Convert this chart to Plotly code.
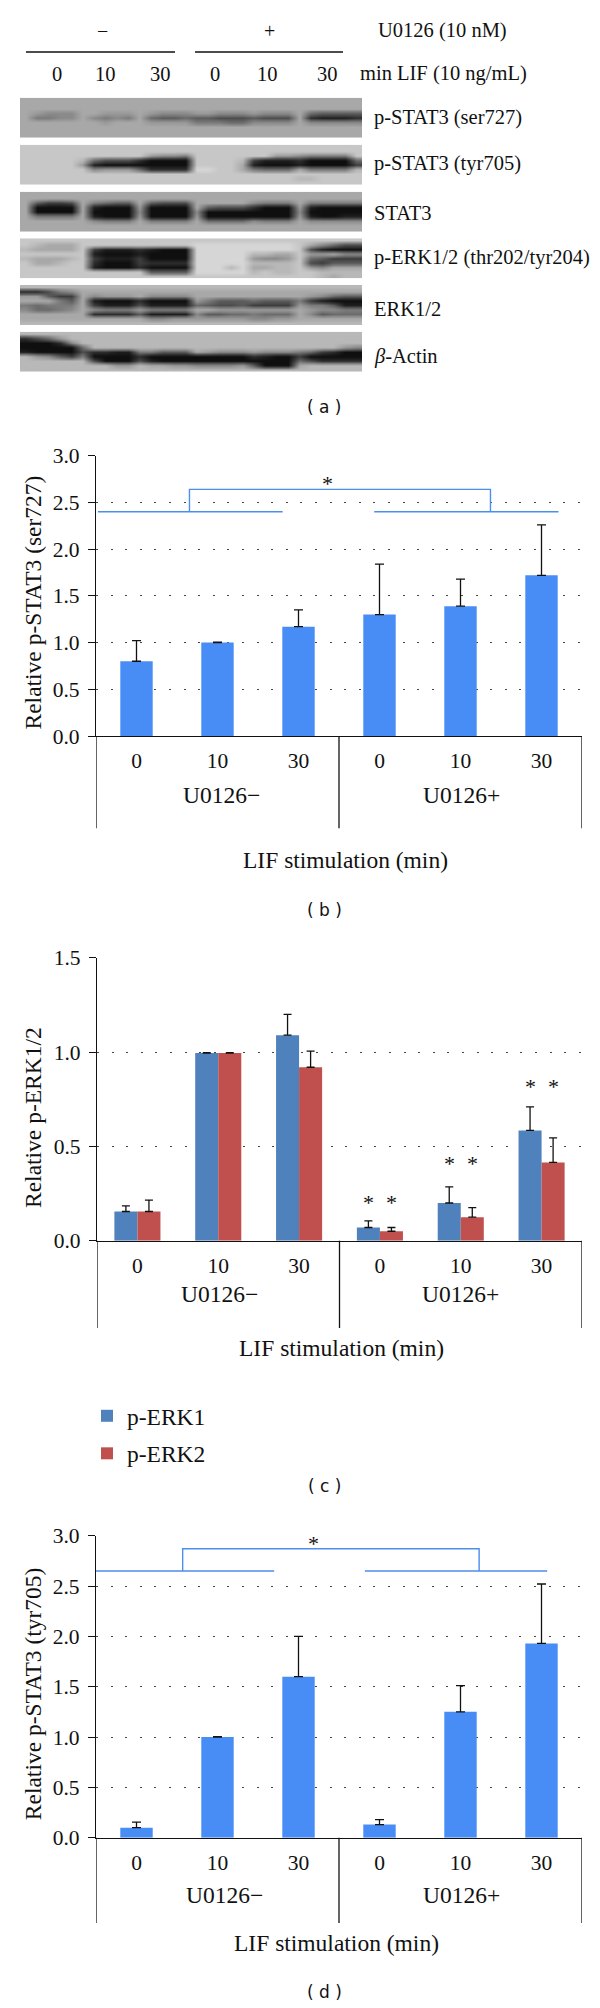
import plotly.graph_objects as go

W, H = 600, 2008
SERIF = "Liberation Serif"
BLUE = "#488CF6"
E1 = "#4F81BD"
E2 = "#C0504D"
BR = "#4A8EEE"

# ---------- panel (a): blot densities (hex grey level per cell)
BLOT_NAMES = ["p-STAT3 (ser727)", "p-STAT3 (tyr705)", "STAT3",
              "p-ERK1/2 (thr202/tyr204)", "ERK1/2", "<i>β</i>-Actin"]
BLOT_TOPS = [97.7, 144.7, 191.7, 238.3, 285, 331.7]
BLOT_LABEL_Y = [118, 163, 213, 257, 309, 357]
BLOT1 = ["aaaaa a aaaa a aaaa aaaaa aaaa a aaaaa",
         "aaaaa a aaaa a aaaa aaaaa aaaa a aaaaa",
         "aaaaa a aaaa a aaaa aaaaa aaaa a aaaaa",
         "a9888 a a999 a 9888 99888 9888 a 65555",
         "a7788 a 8787 a 6556 55444 5444 a 21112",
         "aaaaa a a9aa a 9999 77766 8888 a 88888",
         "aaaaa a aaaa a aaaa aaaaa aaaa a aaaaa",
         "aaaaa a aaaa a aaaa aaaaa aaaa a aaaaa",
         "aaaaa a aaaa a aaaa aaaaa aaaa a aaaaa"]
BLOT2 = ["ccccc c cccc c cccc ccccc cccc c ccccc",
         "ccccc c cccc c cccc ccccc cccc c ccccc",
         "ccccc c cccc c 9887 ccccc cc99 8 7777c",
         "ccccc b 6444 2 0000 ccccb 3111 2 00006",
         "ccccc 9 1000 0 0000 cccca 1000 1 00003",
         "ccccc c 8999 6 2222 ddcca 7666 a 7777b",
         "ccccc c cccc c cccc ccccc cccc c ccccc",
         "ccccc c cccc c cccc ccccc cccc b bcccc",
         "ccccc c cccc c cccc ccccc cccc c ccccc"]
BLOT3 = ["aaaaa a aaaa a aaaa aaaaa aaaa a aaaaa",
         "aaaaa a aaaa a aaaa aaaaa aaaa a aaaaa",
         "a5334 a 7655 a 5444 aaaaa 8777 a 77777",
         "a0000 a 1000 9 0000 a5444 2000 9 10000",
         "a0000 a 0000 8 0000 80000 0000 8 00000",
         "a7777 a 1000 9 0000 90000 0000 9 10011",
         "aaaaa a 8777 a 7777 a6666 8777 a 88888",
         "aaaaa a aaaa a aaaa aaaaa aaaa a aaaaa",
         "aaaaa a aaaa a aaaa aaaaa aaaa a aaaaa"]
BLOT4 = ["ccccc c cccc c cccc ccccc cccc c ccccc",
         "cbaaa c cccc c cccc ddddd dddd c a8644",
         "baaaa c 3111 2 1000 ddddd dddd c 41000",
         "ccccc c 1000 1 0000 ddddd bbaa c 99a88",
         "baaab c 3111 3 0000 ddddd 9889 c 65333",
         "caabc c 2000 3 2222 ddddd bbbb c 43555",
         "ccccc c 1000 2 0000 dddbd aabb c 98aaa",
         "ccccc c cccc c 5555 ddddd bcbb c cbbbb",
         "ccccc c cccc c cccc ccccc cccc c cbabb"]
BLOT5 = ["bbbbb b bbbb b bbbb bbbbb bbbb b bbbbb",
         "22478 a aaaa a aaaa aaaaa aaaa a aaaaa",
         "99533 a 8999 a 8888 aaaaa aaaa a 98655",
         "aaa75 a 1000 2 0000 97555 6555 7 31000",
         "76777 a 3111 4 1111 65445 3333 9 77511",
         "86678 a 8777 9 7777 aa999 9999 a 98877",
         "aaaaa a 2222 5 1111 85566 7666 a 85666",
         "aaaaa a aaaa a 8899 99999 8899 a aaaaa",
         "bbbbb b bbbb b bbbb bbbbb bbbb b bbbbb"]
BLOT6 = ["bbbbb b bbbb b bbbb bbbbb bbbb b bbbbb",
         "2469b b bbbb b bbbb bbbbb bbbb b bbbbb",
         "00028 b bbbb b bbbb bbbbb bbbb b bbbbb",
         "00000 6 bbbb b bbbb bbbbb bbbb b bbb98",
         "10000 4 2211 7 7555 a9888 9888 7 63200",
         "b9853 7 0000 2 0000 00000 2100 3 00000",
         "bbbbb b 4000 4 1000 00000 0000 6 42222",
         "bbbbb b bb99 b aa99 88889 5000 a bbbbb",
         "bbbbb b bbbb b bbbb bbbbb bbbb b bbbbb"]
BLOTS = [BLOT1, BLOT2, BLOT3, BLOT4, BLOT5, BLOT6]
LANE_LABELS = ["0", "10", "30", "0", "10", "30"]
LANE_X = [57, 105, 160, 215, 267, 327]

# ---------- panels (b)-(d)
CATS = ["0", "10", "30", "0", "10", "30"]
GROUPS = ["U0126−", "U0126+"]
B_VALS = [0.80, 1.00, 1.17, 1.30, 1.39, 1.72]
B_ERR = [0.22, 0.005, 0.18, 0.54, 0.29, 0.54]
C_ERK1 = [0.155, 0.995, 1.09, 0.07, 0.20, 0.585]
C_ERK1_ERR = [0.03, 0.003, 0.11, 0.035, 0.085, 0.125]
C_ERK2 = [0.155, 0.995, 0.92, 0.05, 0.125, 0.415]
C_ERK2_ERR = [0.06, 0.003, 0.085, 0.02, 0.05, 0.13]
C_STARS = [None, None, None, 0.205, 0.41, 0.82]
D_VALS = [0.10, 1.00, 1.60, 0.13, 1.25, 1.93]
D_ERR = [0.055, 0.005, 0.40, 0.05, 0.26, 0.59]

fx = lambda px: px / W
fy = lambda px: 1 - px / H
TICK = 21.5
LABEL = 23.5

fig = go.Figure()
layout = dict(
    width=W, height=H, margin=dict(l=0, r=0, t=0, b=0, autoexpand=False), autosize=False,
    paper_bgcolor="white", plot_bgcolor="white", barmode="group", bargap=0.43,
    font=dict(family=SERIF, size=TICK, color="#111"),
    legend=dict(x=fx(87), y=fy(1394), xanchor="left", yanchor="top",
                font=dict(family=SERIF, size=LABEL), tracegroupgap=4,
                bgcolor="rgba(0,0,0,0)"),
)
ann, shapes = [], []

def text(x, y, s, xref="paper", yref="paper", size=LABEL, angle=0, family=SERIF, xanchor="center"):
    ann.append(dict(x=x, y=y, text=s, xref=xref, yref=yref, showarrow=False,
                    font=dict(size=size, family=family, color="#111"),
                    textangle=angle, xanchor=xanchor, yanchor="middle"))

# ----- blots
COLORSCALE = [[0, "rgb(15,15,15)"], [1, "rgb(245,245,245)"]]
for i, (rows, top) in enumerate(zip(BLOTS, BLOT_TOPS)):
    n = i + 1
    z = [[int(c, 16) for c in r.replace(" ", "")] for r in rows]
    fig.add_trace(go.Heatmap(z=z, zmin=0, zmax=15, colorscale=COLORSCALE, showscale=False,
                             zsmooth="best", xaxis=f"x{n}", yaxis=f"y{n}", hoverinfo="skip"))
    layout[f"xaxis{n}"] = dict(domain=[fx(20), fx(362)], visible=False, anchor=f"y{n}",
                               range=[-0.5, 29.5])
    layout[f"yaxis{n}"] = dict(domain=[fy(top + 40), fy(top)], visible=False, anchor=f"x{n}",
                               range=[8.5, -0.5])
    text(fx(371.5), fy(BLOT_LABEL_Y[i]), BLOT_NAMES[i], size=20.5, xanchor="left")

text(fx(102), fy(31), "−", size=20)
text(fx(269), fy(31), "+", size=20)
text(fx(376), fy(30.7), "U0126 (10 nM)", size=20.5, xanchor="left")
text(fx(358), fy(74), "min LIF (10 ng/mL)", size=20.5, xanchor="left")
for s, x in zip(LANE_LABELS, LANE_X):
    text(fx(x), fy(74), s, size=20.5)
for x0, x1 in [(26, 175), (195, 343)]:
    shapes.append(dict(type="line", xref="paper", yref="paper", x0=fx(x0), x1=fx(x1),
                       y0=fy(52), y1=fy(52), line=dict(color="#111", width=1.3)))
text(fx(324), fy(407), "( a )", size=17, family="DejaVu Sans")

# ----- charts
def axes(n, left, top, bottom, ymax, floor, ylabel, ylab_y, grp_y, grp_x, title_x, title_y, panel, panel_y):
    xa, ya = f"x{n}", f"y{n}"
    layout[f"xaxis{n}"] = dict(domain=[fx(left), fx(582)], anchor=ya, range=[-0.5, 5.5],
                               tickmode="array", tickvals=list(range(6)), ticktext=CATS,
                               ticks="", ticklabelstandoff=5, showline=True, linecolor="#111",
                               linewidth=1.4, showgrid=False, zeroline=False,
                               tickfont=dict(size=TICK, family=SERIF, color="#111"))
    layout[f"yaxis{n}"] = dict(domain=[fy(bottom), fy(top)], anchor=xa, range=[0, ymax], dtick=0.5,
                               tick0=0, tickformat=".1f", ticks="outside", ticklen=7, tickwidth=1.3,
                               tickcolor="#111", showline=True, linecolor="#111", linewidth=1.4,
                               showgrid=True, gridcolor="#444", griddash="2px,12.6px", gridwidth=1.3,
                               zeroline=False, ticklabelstandoff=4,
                               tickfont=dict(size=TICK, family=SERIF, color="#111"))
    for x in (-0.5, 2.5, 5.5):
        shapes.append(dict(type="line", xref=xa, yref="paper", x0=x, x1=x, y0=fy(bottom), y1=fy(floor),
                           line=dict(color="#111", width=1.3)))
    text(fx(32.5), fy(ylab_y), ylabel, angle=-90)
    for g, x in zip(GROUPS, grp_x):
        text(fx(x), fy(grp_y), g)
    text(fx(title_x), fy(title_y), "LIF stimulation (min)")
    text(fx(324), fy(panel_y), panel, size=17, family="DejaVu Sans")

def single(n, vals, errs):
    fig.add_trace(go.Bar(x=list(range(6)), y=vals, width=0.4, marker=dict(color=BLUE, line=dict(width=0)),
                         error_y=dict(type="data", symmetric=False, array=errs, arrayminus=[0] * 6,
                                      color="#111", thickness=1.3, width=4.5),
                         xaxis=f"x{n}", yaxis=f"y{n}", showlegend=False))

def bracket(n, left, right, y0, ytop, lx, rx, star):
    xa, ya = f"x{n}", f"y{n}"
    for xs, ys in [(left, [y0, y0]), (right, [y0, y0]), ([lx, lx, rx, rx], [y0, ytop, ytop, y0])]:
        fig.add_trace(go.Scatter(x=xs, y=ys, mode="lines", line=dict(color=BR, width=1.4),
                                 cliponaxis=False, xaxis=xa, yaxis=ya, showlegend=False,
                                 hoverinfo="skip"))
    text(star[0], star[1], "*", xref=xa, yref=ya, size=22)

# (b)
axes(7, 96, 455.7, 736, 3, 828.3, "Relative p-STAT3 (ser727)", 603, 795, [221, 461], 345, 860, "( b )", 910)
single(7, B_VALS, B_ERR)
bracket(7, [-0.476, 1.804], [2.935, 5.21], 2.40, 2.64, 0.654, 4.37, (2.355, 2.70))

# (c)
axes(8, 97, 957.9, 1240.7, 1.5, 1328, "Relative p-ERK1/2", 1117.5, 1294, [220, 460], 341, 1348, "( c )", 1486)
for name, vals, errs, col in [("p-ERK1", C_ERK1, C_ERK1_ERR, E1), ("p-ERK2", C_ERK2, C_ERK2_ERR, E2)]:
    fig.add_trace(go.Bar(x=list(range(6)), y=vals, name=name, marker=dict(color=col, line=dict(width=0)),
                         error_y=dict(type="data", symmetric=False, array=errs, arrayminus=[0] * 6,
                                      color="#111", thickness=1.3, width=4),
                         xaxis="x8", yaxis="y8", legendgroup=name))
for i, s in enumerate(C_STARS):
    if s is not None:
        text(i - 0.143, s, "*", xref="x8", yref="y8", size=22)
        text(i + 0.143, s, "*", xref="x8", yref="y8", size=22)

# (d)
axes(9, 96, 1535.7, 1837.7, 3, 1923, "Relative p-STAT3 (tyr705)", 1693.7, 1895, [224, 461.5], 336.5, 1943, "( d )", 1991.7)
single(9, D_VALS, D_ERR)
bracket(9, [-0.52, 1.70], [2.82, 5.07], 2.65, 2.87, 0.57, 4.23, (2.19, 2.92))

layout["annotations"] = ann
layout["shapes"] = shapes
fig.update_layout(**layout)
fig.write_html("out.html", config=dict(displayModeBar=False),
               post_script="document.body.style.margin='0';")
